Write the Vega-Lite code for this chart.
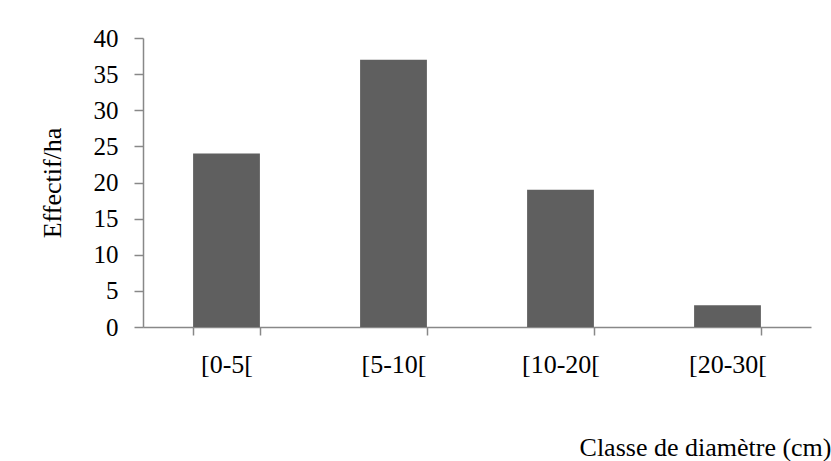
{
  "$schema": "https://vega.github.io/schema/vega-lite/v6.json",
  "width": 668,
  "height": 289,
  "autosize": {"type": "none"},
  "padding": {"left": 143, "top": 38, "right": 20, "bottom": 134},
  "background": "white",
  "config": {
    "view": {"stroke": null},
    "font": "'Liberation Serif', 'DejaVu Serif', serif",
    "axis": {
      "domainColor": "#888888",
      "tickColor": "#888888",
      "domainWidth": 1.5,
      "tickWidth": 1.5,
      "labelFont": "'Liberation Serif', 'DejaVu Serif', serif",
      "labelColor": "#000000",
      "titleFont": "'Liberation Serif', 'DejaVu Serif', serif",
      "titleFontWeight": "normal",
      "titleColor": "#000000",
      "grid": false
    }
  },
  "data": {
    "values": [
      {"classe": "[0-5[", "effectif": 24},
      {"classe": "[5-10[", "effectif": 37},
      {"classe": "[10-20[", "effectif": 19},
      {"classe": "[20-30[", "effectif": 3}
    ]
  },
  "mark": {"type": "bar", "color": "#5f5f5f"},
  "encoding": {
    "x": {
      "field": "classe",
      "type": "nominal",
      "sort": null,
      "scale": {"paddingInner": 0.6, "paddingOuter": 0.3},
      "axis": {
        "title": "Classe de diamètre (cm)",
        "labelAngle": 0,
        "labelFontSize": 26,
        "labelPadding": 16,
        "tickSize": 8,
        "tickBand": "extent",
        "titleFontSize": 26,
        "titleAnchor": "end",
        "titleX": 688,
        "titleAlign": "right",
        "titleY": 128,
        "titleBaseline": "alphabetic"
      }
    },
    "y": {
      "field": "effectif",
      "type": "quantitative",
      "scale": {"domain": [0, 40]},
      "axis": {
        "title": "Effectif/ha",
        "values": [0, 5, 10, 15, 20, 25, 30, 35, 40],
        "labelFontSize": 25,
        "labelPadding": 16,
        "tickSize": 9,
        "titleFontSize": 26,
        "titlePadding": 28
      }
    }
  }
}
